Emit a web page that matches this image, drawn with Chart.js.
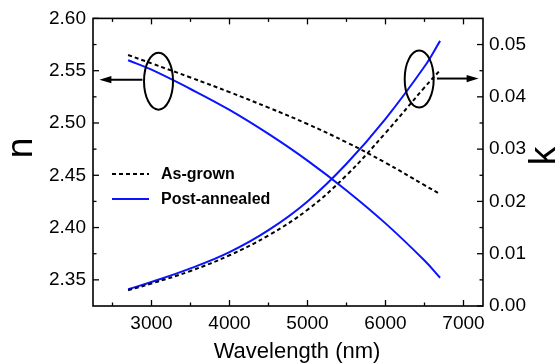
<!DOCTYPE html>
<html>
<head>
<meta charset="utf-8">
<script src="https://cdn.jsdelivr.net/npm/chart.js@4.4.1/dist/chart.umd.min.js"></script>
<style>
html,body{margin:0;padding:0;background:#fff;}
#wrap{width:557px;height:364px;}
</style>
</head>
<body>
<div id="wrap"><canvas id="c" width="557" height="364"></canvas></div>
<script>
// ---- data ----
const wavelengths   = [2700, 3000, 3500, 4000, 4500, 5000, 5500, 6000, 6500, 6700];
const nAsGrown      = [2.565, 2.557, 2.5435, 2.5295, 2.5147, 2.4990, 2.4815, 2.4620, 2.4405, 2.4320];
const nPostAnnealed = [2.560, 2.551, 2.5325, 2.5125, 2.4895, 2.4640, 2.4355, 2.4040, 2.3685, 2.3520];
const kAsGrown      = [0.0030, 0.0043, 0.0067, 0.0097, 0.0135, 0.0184, 0.0250, 0.0331, 0.0418, 0.0451];
const kPostAnnealed = [0.0032, 0.0046, 0.0072, 0.0103, 0.0145, 0.0200, 0.0272, 0.0358, 0.0458, 0.0507];
const seriesLabels  = ['As-grown', 'Post-annealed'];

const xTickValues  = [3000, 4000, 5000, 6000, 7000];
const xMinorTicks  = [2500, 3500, 4500, 5500, 6500];
const nTickValues  = [2.35, 2.40, 2.45, 2.50, 2.55, 2.60];
const nMinorTicks  = [2.375, 2.425, 2.475, 2.525, 2.575];
const kTickValues  = [0.00, 0.01, 0.02, 0.03, 0.04, 0.05];
const kMinorTicks  = [0.005, 0.015, 0.025, 0.035, 0.045];

const xTitle = 'Wavelength (nm)';
const nTitle = 'n';
const kTitle = 'k';

// annotation anchors in data coordinates
const nEllipse = {x: 3090, y: 2.540};
const nArrow   = {x1: 2884, x2: 2332, y: 2.5414};
const kEllipse = {x: 6432, y: 0.0434};
const kArrow   = {x1: 6659, x2: 7194, y: 0.0435};

// ---- chart ----
const pts = (xs, ys) => xs.map((x, i) => ({x: x, y: ys[i]}));
const BLUE = '#0a14ff';
const FONT = "'Liberation Sans', Arial, sans-serif";

const common = {pointRadius: 0, tension: 0.4, fill: false, borderWidth: 2};
const datasets = [
  Object.assign({label: seriesLabels[0], data: pts(wavelengths, nAsGrown), yAxisID: 'yN',
   borderColor: '#000', borderDash: [4, 3]}, common),
  Object.assign({label: seriesLabels[1], data: pts(wavelengths, nPostAnnealed), yAxisID: 'yN',
   borderColor: BLUE}, common),
  Object.assign({label: seriesLabels[0] + ' k', data: pts(wavelengths, kAsGrown), yAxisID: 'yK',
   borderColor: '#000', borderDash: [4, 3]}, common),
  Object.assign({label: seriesLabels[1] + ' k', data: pts(wavelengths, kPostAnnealed), yAxisID: 'yK',
   borderColor: BLUE}, common)
];

function line(ctx, x1, y1, x2, y2) { ctx.beginPath(); ctx.moveTo(x1, y1); ctx.lineTo(x2, y2); ctx.stroke(); }

function arrow(ctx, x1, y, x2) {
  const dir = Math.sign(x2 - x1), head = 12, half = 3.6;
  ctx.lineWidth = 2;
  line(ctx, x1, y, x2 - dir * head + dir, y);
  ctx.beginPath();
  ctx.moveTo(x2, y);
  ctx.lineTo(x2 - dir * head, y - half);
  ctx.lineTo(x2 - dir * head, y + half);
  ctx.closePath();
  ctx.fill();
}

const decor = {
  id: 'decor',
  afterDatasetsDraw(chart) {
    const ctx = chart.ctx, a = chart.chartArea;
    const xs = chart.scales.x, yn = chart.scales.yN, yk = chart.scales.yK;
    ctx.save();
    ctx.strokeStyle = '#000'; ctx.fillStyle = '#000';
    // frame
    ctx.lineWidth = 1.6;
    ctx.strokeRect(a.left, a.top, a.right - a.left, a.bottom - a.top);
    // ticks
    ctx.lineWidth = 1.3;
    const MAJ = 6, MIN = 3.5;
    xTickValues.forEach(v => { const p = xs.getPixelForValue(v); line(ctx, p, a.bottom, p, a.bottom - MAJ); line(ctx, p, a.top, p, a.top + MAJ); });
    xMinorTicks.forEach(v => { const p = xs.getPixelForValue(v); line(ctx, p, a.bottom, p, a.bottom - MIN); line(ctx, p, a.top, p, a.top + MIN); });
    nTickValues.forEach(v => { const p = yn.getPixelForValue(v); line(ctx, a.left, p, a.left + MAJ, p); });
    nMinorTicks.forEach(v => { const p = yn.getPixelForValue(v); line(ctx, a.left, p, a.left + MIN, p); });
    kTickValues.forEach(v => { const p = yk.getPixelForValue(v); line(ctx, a.right, p, a.right - MAJ, p); });
    kMinorTicks.forEach(v => { const p = yk.getPixelForValue(v); line(ctx, a.right, p, a.right - MIN, p); });

    // ellipses + arrows
    ctx.lineWidth = 2;
    ctx.beginPath();
    ctx.ellipse(xs.getPixelForValue(nEllipse.x), yn.getPixelForValue(nEllipse.y), 14.5, 28.5, 0, 0, Math.PI * 2);
    ctx.stroke();
    arrow(ctx, xs.getPixelForValue(nArrow.x1), yn.getPixelForValue(nArrow.y), xs.getPixelForValue(nArrow.x2));
    ctx.beginPath();
    ctx.ellipse(xs.getPixelForValue(kEllipse.x), yk.getPixelForValue(kEllipse.y), 14.5, 28.5, 0, 0, Math.PI * 2);
    ctx.stroke();
    arrow(ctx, xs.getPixelForValue(kArrow.x1), yk.getPixelForValue(kArrow.y), xs.getPixelForValue(kArrow.x2));

    // legend
    const legendRows = [{ds: chart.data.datasets[0], y: 174}, {ds: chart.data.datasets[1], y: 199}];
    ctx.font = 'bold 16px ' + FONT;
    ctx.textBaseline = 'middle'; ctx.textAlign = 'left';
    legendRows.forEach(r => {
      ctx.save();
      ctx.strokeStyle = r.ds.borderColor; ctx.lineWidth = r.ds.borderWidth;
      ctx.setLineDash(r.ds.borderDash || []);
      line(ctx, 112, r.y, 149, r.y);
      ctx.restore();
      ctx.fillStyle = '#000';
      ctx.fillText(r.ds.label, 161, r.y + 1);
    });

    // axis titles
    ctx.fillStyle = '#000';
    ctx.font = '22px ' + FONT;
    ctx.textAlign = 'center'; ctx.textBaseline = 'alphabetic';
    ctx.fillText(xTitle, 297, 358);
    ctx.font = '37px ' + FONT;
    ctx.save(); ctx.translate(32, 148); ctx.rotate(-Math.PI / 2); ctx.fillText(nTitle, 0, 0); ctx.restore();
    ctx.save(); ctx.translate(555, 156); ctx.rotate(-Math.PI / 2); ctx.fillText(kTitle, 0, 0); ctx.restore();
    ctx.restore();
  }
};

const tickFont = {family: FONT, size: 19};

new Chart(document.getElementById('c').getContext('2d'), {
  type: 'line',
  data: {datasets: datasets},
  plugins: [decor],
  options: {
    responsive: false, animation: false, devicePixelRatio: 1,
    layout: {padding: {top: 17, left: 0, right: 0, bottom: 0}},
    plugins: {legend: {display: false}, tooltip: {enabled: false}},
    scales: {
      x: {
        type: 'linear', position: 'bottom', min: 2250, max: 7250,
        afterBuildTicks: s => { s.ticks = xTickValues.map(v => ({value: v})); },
        afterFit: s => { s.height = 58; },
        grid: {display: false, drawTicks: false}, border: {display: false},
        ticks: {font: tickFont, color: '#000', padding: 6, maxRotation: 0, autoSkip: false, callback: v => String(v)}
      },
      yN: {
        type: 'linear', position: 'left', min: 2.325, max: 2.60,
        afterBuildTicks: s => { s.ticks = nTickValues.map(v => ({value: v})); },
        afterFit: s => { s.width = 93; },
        grid: {display: false, drawTicks: false}, border: {display: false},
        ticks: {font: tickFont, color: '#000', padding: 7, autoSkip: false, callback: v => Number(v).toFixed(2)}
      },
      yK: {
        type: 'linear', position: 'right', min: 0, max: 0.055,
        afterBuildTicks: s => { s.ticks = kTickValues.map(v => ({value: v})); },
        afterFit: s => { s.width = 74; },
        grid: {display: false, drawTicks: false}, border: {display: false},
        ticks: {font: tickFont, color: '#000', padding: 6, autoSkip: false, callback: v => Number(v).toFixed(2)}
      }
    }
  }
});
</script>
</body>
</html>
